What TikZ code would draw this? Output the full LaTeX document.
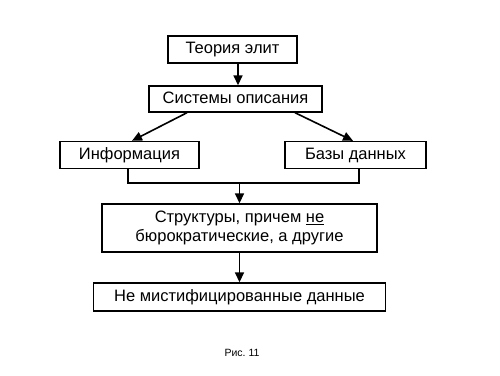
\documentclass[tikz,border=0pt]{standalone}
\usepackage{fontspec}
\setmainfont{Liberation Sans}
\usetikzlibrary{positioning,arrows.meta}

\begin{document}
\frenchspacing
\begin{tikzpicture}[
    x=1pt, y=-1pt,
    box/.style   ={rectangle, draw=black, line width=1.4pt, inner sep=0pt,
                   font=\fontsize{16.5}{19.5}\selectfont, align=center},
    onerow/.style={text height=12pt, text depth=3.5pt},
    arr/.style   ={line width=1.6pt, -{Triangle[length=10pt,width=9pt]}},
    link/.style  ={line width=1.4pt},
    caption/.style={font=\fontsize{10.5}{12}\selectfont}
  ]
    % page frame (500 x 375)
    \useasboundingbox[fill=white] (0,0) rectangle (500,375);

    % --- boxes ---
    \node[box, onerow, minimum width=129pt, minimum height=27pt] (elite)  at (232.5, 49.5) {Теория элит};
    \node[box, onerow, minimum width=173pt, minimum height=26pt] (descr)  at (235.5, 99)   {Системы описания};
    \node[box, onerow, minimum width=139pt, minimum height=27pt] (info)   at (129.5, 155)  {Информация};
    \node[box, onerow, minimum width=141pt, minimum height=27pt] (dbase)  at (355.5, 155)  {Базы данных};
    \node[box, minimum width=275pt, minimum height=48pt] (struct) at (239.5, 228)
      {Структуры, причем \underline{не}\\бюрократические, а другие};
    \node[box, onerow, minimum width=292pt, minimum height=28pt] (demyst) at (239.5, 297)
      {Не мистифицированные данные};

    % caption
    \node[caption] (fig) at (242, 353) {Рис. 11};

    % --- connectors ---
    \draw[arr] (238,0 |- elite.south) -- (238,0 |- descr.north);
    \draw[arr] (187,0 |- descr.south) -- (132,0 |- info.north);
    \draw[arr] (295,0 |- descr.south) -- (353,0 |- dbase.north);

    % join of the two middle boxes
    \coordinate (join) at (239.5, 183);
    \draw[link] (128,0 |- info.south) |- (join) -| (359,0 |- dbase.south);
    \draw[arr] (join) -- (join |- struct.north);

    \draw[arr] (struct.south) -- (demyst.north);
  \end{tikzpicture}
\end{document}
